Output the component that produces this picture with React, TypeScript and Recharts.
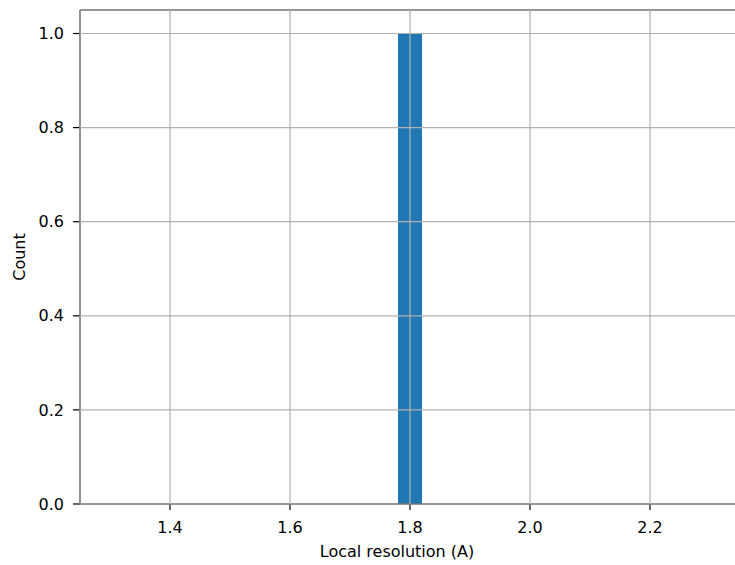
import React from "react";
import {
  Bar,
  CartesianGrid,
  ComposedChart,
  ReferenceLine,
  XAxis,
  YAxis,
} from "recharts";

// histogram bins (centre of each 0.04 wide bin from 1.3 to 2.3)
const binCenters = [
  1.32, 1.36, 1.4, 1.44, 1.48, 1.52, 1.56, 1.6, 1.64, 1.68, 1.72, 1.76, 1.8,
  1.84, 1.88, 1.92, 1.96, 2.0, 2.04, 2.08, 2.12, 2.16, 2.2, 2.24, 2.28,
];
const counts = [
  0, 0, 0, 0, 0, 0, 0, 0, 0, 0, 0, 0, 1, 0, 0, 0, 0, 0, 0, 0, 0, 0, 0, 0, 0,
];
const xTicks = [1.4, 1.6, 1.8, 2.0, 2.2];
const yTicks = [0, 0.2, 0.4, 0.6, 0.8, 1.0];

const font = "'DejaVu Sans', sans-serif";

const App = () => {
  const data = binCenters.map((x, i) => ({ x, count: counts[i] }));

  return (
    <div
      style={{
        width: 735,
        height: 565,
        overflow: "hidden",
        background: "#fff",
        fontFamily: font,
      }}
    >
      <style>{"body{margin:0}"}</style>
      <ComposedChart
        width={740}
        height={565}
        data={data}
        margin={{ top: 10, right: 0, bottom: 0, left: 0 }}
        barCategoryGap={0}
        barGap={0}
      >
        <XAxis
          dataKey="x"
          type="number"
          domain={[1.25, 2.35]}
          ticks={xTicks}
          tickFormatter={(v: number) => v.toFixed(1)}
          allowDataOverflow
          height={61}
          tickSize={6}
          tickMargin={12}
          stroke="#000"
          axisLine={{ stroke: "#000", strokeWidth: 1.2 }}
          tickLine={{ stroke: "#000", strokeWidth: 1.2 }}
          tick={{ fill: "#000", fontSize: 16, fontFamily: font }}
          label={{
            value: "Local resolution (A)",
            position: "insideBottom",
            offset: 8,
            dx: -13,
            fill: "#000",
            fontSize: 16,
            fontFamily: font,
          }}
        />
        <YAxis
          type="number"
          domain={[0, 1.05]}
          ticks={yTicks}
          tickFormatter={(v: number) => v.toFixed(1)}
          allowDataOverflow
          width={80}
          tickSize={7}
          tickMargin={9}
          stroke="#000"
          axisLine={{ stroke: "#000", strokeWidth: 1.2 }}
          tickLine={{ stroke: "#000", strokeWidth: 1.2 }}
          tick={{ fill: "#000", fontSize: 16, fontFamily: font }}
          label={{
            value: "Count",
            angle: -90,
            position: "insideLeft",
            offset: 19,
            fill: "#000",
            fontSize: 16,
            fontFamily: font,
            style: { textAnchor: "middle" },
          }}
        />
        <Bar dataKey="count" fill="#1f77b4" isAnimationActive={false} />
        {/* matplotlib draws the grid over the bars */}
        <CartesianGrid stroke="#b0b0b0" strokeWidth={1.2} zIndex={500} />
        <ReferenceLine y={1.05} stroke="#000" strokeWidth={1.2} />
      </ComposedChart>
    </div>
  );
};

export default App;
